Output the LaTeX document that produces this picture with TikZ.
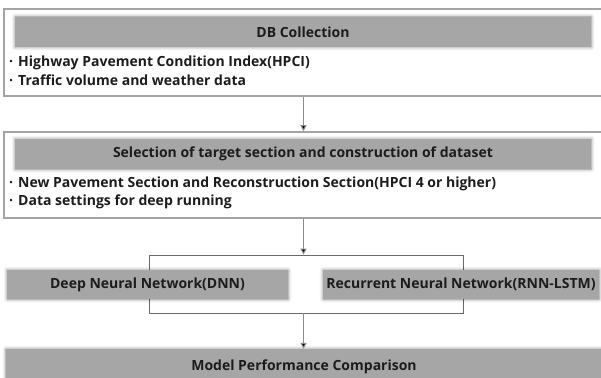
\documentclass[tikz,border=0pt]{standalone}
\usepackage{fontspec}
\setmainfont{Open Sans}
\usepackage{tikz}
\usetikzlibrary{positioning,arrows.meta,shadows.blur}
\usepackage{xcolor}

\definecolor{headgray}{HTML}{A6A6A6}
\definecolor{framegray}{HTML}{A4A4A4}
\definecolor{linegray}{HTML}{8C8C8C}
\definecolor{forkgray}{HTML}{6A6A6A}
\definecolor{inkgray}{HTML}{1C1C1C}

\newcommand{\dotitem}{·\hspace{5pt}}

\begin{document}
\begin{tikzpicture}[x=1pt,y=-1pt,
	font=\bfseries\fontsize{14}{16}\selectfont, text=inkgray,
	frame/.style={draw=framegray, line width=1.6pt, inner sep=0pt},
	head/.style={fill=headgray, inner sep=0pt, minimum height=30pt,
		blur shadow={shadow xshift=0pt, shadow yshift=0pt, shadow blur radius=3.5pt, shadow opacity=50}},
	item/.style={anchor=west, inner sep=0pt},
	arr/.style={draw=linegray, line width=1pt, -{Triangle[length=6pt,width=6pt,fill=black]}}]
	
	\useasboundingbox (0,0) rectangle (601,377);
	
	% first stage
	\node[frame, minimum width=599pt, minimum height=87pt] (box1) at (303.5,52.5) {};
	\node[head, minimum width=576pt] (head1) at (303,32) {DB Collection};
	\node[item] (hpci) at (9,63) {\dotitem Highway Pavement Condition Index(HPCI)};
	\node[item] (traffic) at (9,80) {\dotitem Traffic volume and weather data};
	
	% second stage
	\node[frame, minimum width=599pt, minimum height=86pt] (box2) at (303.5,175) {};
	\node[head, minimum width=576pt] (head2) at (303,154) {Selection of target section and construction of dataset};
	\node[item] (section) at (9,184) {\dotitem New Pavement Section and Reconstruction Section(HPCI 4 or higher)};
	\node[item] (setting) at (9,202) {\dotitem Data settings for deep running};
	
	% the two models
	\node[draw=forkgray, line width=0.8pt, minimum width=314pt, minimum height=58pt, inner sep=0pt] (fork) at (306,284) {};
	\node[head, minimum width=281pt, minimum height=29pt] (dnn) at (147.5,284.5) {Deep Neural Network(DNN)};
	\node[head, minimum width=276pt, minimum height=29pt] (rnn) at (461,284.5) {Recurrent Neural Network(RNN-LSTM)};
	
	% comparison
	\node[head, minimum width=596pt, minimum height=35pt] (model) at (304,366.5) {Model Performance Comparison};
	
	\draw[arr] (box1.south) -- (box2.north);
	\draw[arr] (box2.south) -- (box2.south |- fork.north);
	\draw[arr] (box2.south |- fork.south) -- (box2.south |- model.north);
	
\end{tikzpicture}
\end{document}
